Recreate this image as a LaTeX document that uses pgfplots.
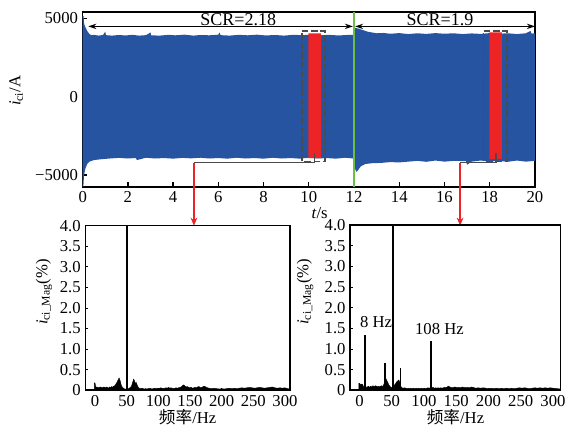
\documentclass[border=0pt]{standalone}
\usepackage{fontspec}
\setmainfont{Liberation Serif}
\newfontfamily\cjk{Noto Sans CJK SC}
\usepackage{pgfplots}
\pgfplotsset{compat=1.18}
\usetikzlibrary{arrows.meta}
\definecolor{bandblue}{RGB}{38,84,160}
\definecolor{hired}{RGB}{236,36,38}
\definecolor{lgreen}{RGB}{108,190,69}
\definecolor{dgray}{RGB}{75,75,75}
\pgfplotsset{
  every axis/.append style={font=\fontsize{12.5}{14}\selectfont},
  tick label style={font=\fontsize{12.5}{14}\selectfont},
  label style={font=\fontsize{12.5}{14}\selectfont},
  /pgf/number format/assume math mode=true,
}
\begin{document}
\begin{tikzpicture}
\path[use as bounding box] (0,0) rectangle (432pt,321pt);
% ---------------- top axis ----------------
\begin{axis}[name=top, at={(62pt,180.75pt)}, anchor=south west, scale only axis,
  width=339.2pt, height=131.25pt,
  xmin=0, xmax=20, ymin=-5770, ymax=5410,
  xtick={0,2,...,20}, ytick={-5000,0,5000}, yticklabels={−5000,0,5000},
  tick align=inside, xtick pos=bottom, ytick pos=left,
  major tick length=3.5pt, tick style={line width=1pt, black},
  axis line style={line width=1.2pt},
  clip=false,
  ylabel={\textit{i}\textsubscript{ci}/A},
  y label style={at={(axis description cs:-0.147,0.55)}, anchor=center},
]
\addplot[draw=none, fill=bandblue] coordinates {
(0,-5770)(0,5150)(0.04,5150)(0.06,4700)(0.1,4500)(0.15,4350)(0.2,4200)(0.3,4000)(0.4,3920)(0.5,3950)(0.7,3900)(0.9,3940)(1.0,4150)(1.03,3930)(1.3,3900)(1.6,3940)(1.9,3910)(2.2,3950)(2.5,3900)(2.8,3930)(3.0,4100)(3.03,3920)(3.4,3900)(3.8,3950)(4.1,3920)(4.5,3960)(4.9,3900)(5.2,3940)(5.6,3920)(6.0,3960)(6.05,4100)(6.1,3930)(6.5,3900)(6.9,3950)(7.3,3920)(7.7,3960)(8.1,3910)(8.5,3940)(8.9,3900)(9.3,3950)(9.7,3930)(10.1,3960)(10.5,3920)(10.9,3950)(11.3,3910)(11.7,3940)(11.98,3950)
(12.02,4400)(12.2,4350)(12.4,4250)(12.6,4150)(12.8,4100)(13.0,4050)(13.3,4070)(13.6,4020)(14.0,4060)(14.4,4000)(14.8,4050)(15.2,4010)(15.6,4060)(16.0,4020)(16.4,4050)(16.8,4000)(17.2,4040)(17.6,4010)(18.0,4060)(18.4,4020)(18.8,4050)(19.2,4000)(19.6,4050)(19.8,4200)(19.85,4030)(20,4050)
(20,-4100)(19.6,-4150)(19.2,-4080)(18.8,-4160)(18.4,-4100)(18.0,-4140)(17.6,-4080)(17.2,-4150)(17.0,-4350)(16.95,-4120)(16.4,-4100)(16.0,-4150)(15.6,-4080)(15.2,-4160)(14.8,-4100)(14.4,-4150)(14.0,-4200)(13.6,-4180)(13.2,-4230)(12.8,-4250)(12.5,-4300)(12.3,-4450)(12.15,-4750)(12.1,-4800)(12.02,-4500)(11.98,-3950)
(11.6,-3900)(11.2,-3960)(10.8,-3920)(10.4,-3950)(10.0,-3900)(9.6,-3960)(9.2,-3920)(8.8,-3950)(8.4,-3900)(8.0,-3960)(7.6,-3920)(7.2,-3950)(6.8,-3900)(6.4,-3960)(6.0,-3920)(5.6,-3950)(5.2,-3900)(4.8,-3940)(4.4,-3910)(4.0,-3960)(3.6,-3920)(3.2,-3950)(2.8,-3900)(2.4,-4050)(2.35,-3920)(2.0,-3950)(1.6,-3910)(1.2,-3950)(0.8,-4000)(0.5,-4050)(0.3,-4150)(0.2,-4300)(0.12,-4600)(0.06,-5000)(0.03,-5770)(0,-5770)
};
% red highlighted windows
\addplot[draw=none, fill=hired] coordinates {(9.98,4050)(10.53,4050)(10.53,-3930)(9.98,-3930)(9.98,4050)};
\addplot[draw=none, fill=hired] coordinates {(17.98,4100)(18.54,4100)(18.54,-3980)(17.98,-3980)(17.98,4100)};
% dashed frames
\addplot[dgray, line width=1.1pt, dash pattern=on 5pt off 2pt] coordinates {(9.69,4190)(10.72,4190)(10.72,-4150)(9.69,-4150)(9.69,4190)};
\addplot[dgray, line width=1.1pt, dash pattern=on 5pt off 2pt] coordinates {(17.73,4190)(18.76,4190)(18.76,-4150)(17.73,-4150)(17.73,4190)};
% green line
\addplot[lgreen, line width=1.1pt] coordinates {(12,-5770)(12,5410)};
% connectors
\draw[dgray, line width=1.1pt] (axis cs:4.92,-4210) -- (axis cs:10.25,-4210) -- (axis cs:10.25,-3620);
\draw[dgray, line width=1.1pt] (axis cs:16.69,-4210) -- (axis cs:18.28,-4210) -- (axis cs:18.28,-3620);
\draw[hired, line width=1pt, -{Stealth[length=6pt,width=5pt]}] (axis cs:4.92,-4210) -- (axis cs:4.92,-8240);
\draw[hired, line width=1pt, -{Stealth[length=6pt,width=5pt]}] (axis cs:16.69,-4210) -- (axis cs:16.69,-8240);
% SCR arrows
\draw[line width=0.9pt, {Stealth[length=6pt,width=4pt]}-{Stealth[length=6pt,width=4pt]}] (axis cs:0.25,4490) -- (axis cs:11.95,4490);
\draw[line width=0.9pt, {Stealth[length=6pt,width=4pt]}-{Stealth[length=6pt,width=4pt]}] (axis cs:12.05,4490) -- (axis cs:20,4490);
\node[anchor=base, font=\fontsize{13.5}{15}\selectfont, yshift=1pt] at (axis cs:6.88,4490) {SCR=2.18};
\node[anchor=base, font=\fontsize{13.5}{15}\selectfont, yshift=1pt] at (axis cs:15.8,4490) {SCR=1.9};
\node[anchor=center] at (axis description cs:0.524,-0.148) {\textit{t}/s};
\end{axis}
% ---------------- lower left ----------------
\begin{axis}[at={(64pt,28.3pt)}, anchor=south west, scale only axis,
  width=153.5pt, height=123.45pt,
  xmin=-15.3, xmax=308, ymin=0, ymax=4,
  xtick={0,50,...,300}, ytick={0,0.5,1,1.5,2,2.5,3,3.5,4},
  yticklabels={0,0.5,1.0,1.5,2.0,2.5,3.0,3.5,4.0},
  tick align=inside, xtick pos=bottom, ytick pos=left,
  major tick length=2pt, tick style={line width=0.6pt, black},
  axis line style={line width=1.2pt},
  ylabel={\textit{i}\textsubscript{ci\_Mag}(\%)},
  y label style={at={(axis description cs:-0.202,0.597)}, anchor=center},
  xlabel={{\cjk 频率}/Hz},
  x label style={at={(axis description cs:0.5,-0.165)}, anchor=center},
]
\addplot[black, fill=black, line width=0.3pt] coordinates {
(-1,0)(-1,0.18)(0,0.17)(1,0.09)(2,0.07)(3,0.08)(4,0.06)(5,0.07)(6,0.05)(7,0.07)(8,0.06)(9,0.08)(10,0.06)(11,0.07)(12,0.05)(13,0.07)(14,0.08)(15,0.06)(16,0.07)(17,0.05)(18,0.08)(19,0.06)(20,0.07)(21,0.05)(22,0.06)(23,0.08)(24,0.06)(25,0.07)(26,0.09)(27,0.07)(28,0.08)(29,0.1)(30,0.09)(31,0.11)(32,0.13)(33,0.15)(34,0.18)(35,0.2)(36,0.24)(37,0.27)(38,0.3)(39,0.26)(40,0.22)(41,0.15)(42,0.1)(43,0.08)(44,0.06)(45,0.05)(46,0.04)(47,0.03)(48,0.03)(49,0.03)(52,0.03)(53,0.04)(54,0.05)(55,0.06)(56,0.07)(57,0.09)(58,0.12)(59,0.17)(60,0.22)(61,0.27)(62,0.24)(63,0.2)(64,0.16)(65,0.19)(66,0.15)(67,0.11)(68,0.08)(69,0.06)(70,0.05)(72,0.04)(74,0.05)(76,0.04)(78,0.03)(80,0.04)(82,0.03)(84,0.04)(86,0.05)(88,0.04)(90,0.03)(92,0.04)(94,0.05)(96,0.04)(98,0.05)(100,0.04)(102,0.05)(104,0.06)(106,0.05)(108,0.04)(110,0.05)(112,0.06)(114,0.05)(116,0.07)(118,0.05)(120,0.06)(122,0.05)(124,0.04)(126,0.05)(128,0.06)(130,0.05)(132,0.06)(134,0.07)(136,0.08)(138,0.11)(140,0.13)(142,0.1)(144,0.08)(146,0.09)(148,0.07)(150,0.06)(152,0.07)(154,0.05)(156,0.06)(158,0.07)(160,0.06)(162,0.08)(164,0.09)(166,0.07)(168,0.06)(170,0.08)(172,0.1)(174,0.09)(176,0.07)(178,0.06)(180,0.05)(184,0.04)(188,0.05)(192,0.04)(196,0.03)(200,0.04)(204,0.03)(208,0.04)(212,0.05)(216,0.04)(220,0.05)(224,0.04)(228,0.05)(232,0.06)(236,0.05)(240,0.06)(244,0.07)(248,0.06)(252,0.05)(256,0.06)(260,0.07)(264,0.06)(268,0.05)(272,0.06)(276,0.07)(280,0.08)(284,0.06)(288,0.05)(292,0.06)(296,0.05)(300,0.06)(304,0.04)(308,0.03)(308,0)(-1,0)
};
\addplot[black, line width=1.5pt] coordinates {(50.5,0)(50.5,4.3)};
\end{axis}
% ---------------- lower right ----------------
\begin{axis}[at={(262.7pt,28.3pt)}, anchor=south west, scale only axis,
  width=157.8pt, height=123.75pt,
  xmin=-14.3, xmax=312, ymin=0, ymax=4,
  xtick={0,50,...,300}, ytick={0,0.5,1,1.5,2,2.5,3,3.5,4},
  yticklabels={0,0.5,1.0,1.5,2.0,2.5,3.0,3.5,4.0},
  tick align=inside, xtick pos=bottom, ytick pos=left,
  major tick length=2pt, tick style={line width=0.6pt, black},
  axis line style={line width=1.2pt},
  ylabel={\textit{i}\textsubscript{ci\_Mag}(\%)},
  y label style={at={(axis description cs:-0.215,0.597)}, anchor=center},
  xlabel={{\cjk 频率}/Hz},
  x label style={at={(axis description cs:0.5,-0.165)}, anchor=center},
]
\addplot[black, fill=black, line width=0.3pt] coordinates {
(-1,0)(-1,0.17)(0,0.17)(1,0.15)(2,0.14)(3,0.15)(4,0.13)(5,0.14)(6,0.09)(7,0.08)(8,0.07)(10,0.06)(11,0.08)(12,0.07)(13,0.09)(14,0.1)(15,0.08)(16,0.07)(17,0.1)(18,0.09)(19,0.08)(20,0.1)(21,0.11)(22,0.09)(23,0.1)(24,0.08)(25,0.11)(26,0.09)(27,0.1)(28,0.08)(29,0.09)(30,0.1)(31,0.08)(32,0.09)(33,0.1)(34,0.11)(35,0.09)(36,0.1)(37,0.12)(38,0.15)(40,0.3)(41,0.28)(42,0.25)(43,0.22)(44,0.19)(45,0.15)(46,0.12)(47,0.1)(48,0.08)(49,0.07)(50,0.07)(53,0.09)(54,0.12)(55,0.14)(56,0.16)(57,0.19)(58,0.21)(59,0.22)(60,0.24)(61,0.25)(62,0.22)(64,0.1)(65,0.07)(66,0.06)(68,0.05)(70,0.06)(72,0.05)(74,0.04)(76,0.05)(78,0.04)(80,0.05)(82,0.04)(84,0.05)(86,0.04)(88,0.05)(90,0.04)(92,0.05)(94,0.04)(96,0.05)(98,0.04)(100,0.05)(102,0.04)(104,0.05)(106,0.06)(108,0.05)(110,0.06)(114,0.07)(116,0.05)(118,0.06)(120,0.05)(122,0.06)(124,0.05)(126,0.06)(128,0.05)(130,0.06)(132,0.07)(134,0.06)(136,0.08)(138,0.1)(140,0.08)(142,0.07)(144,0.06)(146,0.07)(148,0.08)(150,0.07)(152,0.06)(154,0.07)(156,0.06)(158,0.07)(160,0.08)(162,0.06)(164,0.07)(166,0.06)(168,0.07)(170,0.06)(172,0.07)(174,0.08)(176,0.07)(178,0.06)(180,0.05)(184,0.06)(188,0.05)(192,0.06)(196,0.05)(200,0.04)(204,0.05)(208,0.04)(212,0.05)(216,0.04)(220,0.05)(224,0.04)(228,0.05)(232,0.04)(236,0.05)(240,0.04)(244,0.05)(248,0.06)(252,0.05)(256,0.06)(260,0.05)(264,0.04)(268,0.05)(272,0.06)(276,0.05)(280,0.06)(284,0.05)(288,0.06)(292,0.05)(296,0.06)(300,0.05)(306,0.04)(312,0.03)(312,0)(-1,0)
};
\addplot[black, line width=1.2pt, ycomb] coordinates {(8.5,1.33)(39.5,0.66)(63.5,0.53)(111,1.2)};
\addplot[black, line width=1.5pt] coordinates {(51.5,0)(51.5,4.3)};
\node at (axis cs:25.6,1.66) {8 Hz};
\node at (axis cs:124,1.48) {108 Hz};
\end{axis}
\end{tikzpicture}
\end{document}
